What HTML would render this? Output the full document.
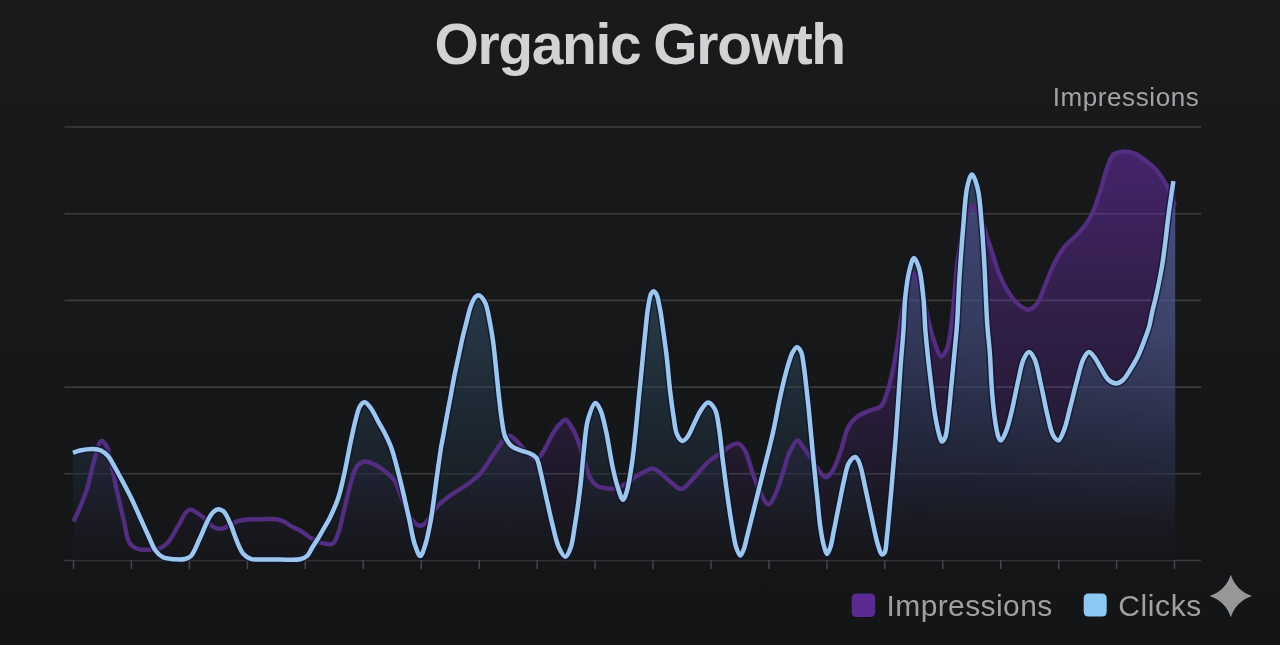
<!DOCTYPE html>
<html><head><meta charset="utf-8"><title>Organic Growth</title>
<style>
html,body{margin:0;padding:0;background:#161618;}
body{width:1280px;height:645px;overflow:hidden;}
svg{display:block;}
text{font-family:"Liberation Sans",Arial,sans-serif;}
</style></head><body>
<svg width="1280" height="645" viewBox="0 0 1280 645">
<defs>
<linearGradient id="bg" x1="0" y1="0" x2="0" y2="1">
<stop offset="0" stop-color="#1a1a1c"/><stop offset="1" stop-color="#141517"/>
</linearGradient>
<linearGradient id="pf" gradientUnits="userSpaceOnUse" x1="0" y1="150" x2="0" y2="560">
<stop offset="0" stop-color="#7832c8" stop-opacity="0.46"/>
<stop offset="0.366" stop-color="#7832c8" stop-opacity="0.28"/>
<stop offset="0.512" stop-color="#7832c8" stop-opacity="0.23"/>
<stop offset="0.683" stop-color="#7832c8" stop-opacity="0.16"/>
<stop offset="0.854" stop-color="#7832c8" stop-opacity="0.065"/>
<stop offset="1" stop-color="#7832c8" stop-opacity="0.01"/>
</linearGradient>
<linearGradient id="bf" gradientUnits="userSpaceOnUse" x1="0" y1="170" x2="0" y2="560">
<stop offset="0" stop-color="rgb(62,100,130)" stop-opacity="0.5"/>
<stop offset="0.41" stop-color="rgb(50,82,107)" stop-opacity="0.5"/>
<stop offset="0.59" stop-color="rgb(38,62,81)" stop-opacity="0.5"/>
<stop offset="0.77" stop-color="rgb(30,44,58)" stop-opacity="0.5"/>
<stop offset="0.9" stop-color="rgb(25,30,38)" stop-opacity="0.5"/>
<stop offset="1" stop-color="rgb(22,22,25)" stop-opacity="0.5"/>
</linearGradient>
<linearGradient id="lavh" gradientUnits="userSpaceOnUse" x1="860" y1="0" x2="1176" y2="0">
<stop offset="0" stop-color="#8c91e0" stop-opacity="0"/>
<stop offset="0.5" stop-color="#8c91e0" stop-opacity="0.07"/>
<stop offset="1" stop-color="#8c91e0" stop-opacity="0.16"/>
</linearGradient>
<linearGradient id="lavv" gradientUnits="userSpaceOnUse" x1="0" y1="170" x2="0" y2="540">
<stop offset="0" stop-color="#fff" stop-opacity="1"/>
<stop offset="0.45" stop-color="#fff" stop-opacity="0.85"/>
<stop offset="0.75" stop-color="#fff" stop-opacity="0.3"/>
<stop offset="1" stop-color="#fff" stop-opacity="0"/>
</linearGradient>
<mask id="lavmask" maskUnits="userSpaceOnUse" x="0" y="0" width="1280" height="645">
<rect x="0" y="0" width="1280" height="645" fill="url(#lavv)"/>
</mask>
<clipPath id="bclip"><path d="M73.0,452.8 C73.0,452.8 77.3,451.1 80.0,450.5 C83.6,449.7 89.2,448.9 93.0,449.0 C96.0,449.1 98.5,449.4 101.0,450.5 C103.6,451.7 105.9,453.6 108.0,456.0 C110.6,459.0 112.6,463.3 115.0,467.5 C117.9,472.5 121.2,478.8 124.0,484.0 C126.5,488.7 128.6,492.7 131.0,497.5 C133.6,502.9 136.2,508.9 139.0,515.0 C142.0,521.7 145.5,529.7 148.5,536.0 C151.0,541.3 152.7,546.8 155.5,550.5 C157.7,553.5 160.0,555.8 163.0,557.3 C166.3,558.9 171.2,559.0 175.0,559.3 C178.5,559.5 182.2,559.7 185.0,559.0 C187.3,558.4 189.1,557.9 191.0,556.0 C194.3,552.7 197.2,543.9 200.0,538.0 C202.7,532.3 205.0,525.8 207.4,521.2 C209.2,517.8 210.7,514.6 212.8,512.5 C214.4,510.9 216.4,509.3 218.2,509.2 C220.0,509.1 221.9,509.9 223.6,511.4 C226.1,513.6 228.2,518.9 230.2,523.3 C232.6,528.5 234.4,535.4 236.7,540.7 C238.7,545.4 240.5,550.6 243.2,553.7 C245.4,556.2 248.0,557.8 250.8,558.8 C253.6,559.8 256.3,559.4 260.0,559.5 C265.4,559.7 273.3,559.5 280.0,559.5 C286.7,559.5 295.1,560.4 300.0,559.3 C303.1,558.6 305.2,557.7 307.2,555.9 C309.3,554.0 310.3,550.7 312.0,548.0 C313.8,545.1 315.8,542.1 317.7,539.0 C319.7,535.8 321.6,532.4 323.5,529.0 C325.5,525.5 327.4,522.7 329.5,518.5 C332.3,512.8 335.9,505.0 338.3,497.8 C340.8,490.3 342.3,482.6 344.2,474.3 C346.3,465.0 348.1,454.4 350.1,444.8 C352.0,435.7 354.0,425.5 356.0,418.3 C357.4,413.2 358.4,408.2 360.4,405.5 C361.6,403.8 363.2,402.2 364.7,402.3 C366.6,402.4 368.8,405.5 370.7,408.0 C373.3,411.3 375.6,416.8 378.0,421.2 C380.5,425.6 383.2,430.0 385.4,434.5 C387.6,438.9 389.5,442.7 391.3,447.7 C393.5,453.7 395.3,461.2 397.2,468.3 C399.2,475.9 401.1,483.7 403.0,491.8 C405.0,500.4 407.0,509.5 409.0,518.3 C411.0,527.1 412.5,537.9 414.9,544.8 C416.5,549.4 418.6,556.0 420.3,556.0 C422.0,556.0 423.8,549.3 425.3,544.8 C427.4,538.5 428.9,530.4 430.6,521.3 C432.9,508.9 434.9,490.5 436.8,477.1 C438.4,465.8 440.1,453.1 441.3,446.0 C441.9,442.2 442.3,440.9 443.0,437.4 C444.0,431.9 445.5,423.3 446.8,416.3 C448.1,409.3 449.5,402.3 450.8,395.3 C452.1,388.3 453.3,381.0 454.7,374.2 C456.0,367.8 457.4,361.9 458.7,355.8 C460.0,349.7 461.2,343.3 462.6,337.4 C463.9,331.9 465.3,326.7 466.6,321.6 C467.9,316.7 469.0,311.3 470.5,307.1 C471.7,303.7 472.9,300.2 474.5,298.2 C475.6,296.8 476.9,295.2 478.3,295.3 C480.2,295.4 482.9,298.6 484.7,301.7 C487.5,306.7 488.8,317.1 490.2,324.0 C491.4,330.0 492.1,334.6 493.0,340.8 C494.0,348.3 494.9,357.3 495.8,365.9 C496.8,375.0 497.6,384.7 498.6,393.8 C499.6,402.7 500.6,412.3 501.8,420.0 C502.8,426.1 503.1,431.7 505.0,436.3 C506.7,440.3 509.1,444.1 512.0,446.5 C514.5,448.6 517.7,449.3 520.8,450.5 C524.1,451.8 528.4,452.5 531.2,454.0 C533.4,455.1 535.1,456.0 536.5,458.0 C538.5,460.9 539.1,466.1 540.4,471.2 C542.1,477.9 543.8,486.6 545.7,494.9 C547.8,504.1 550.0,514.7 552.3,523.9 C554.4,532.2 556.1,541.7 558.9,547.6 C560.8,551.6 563.4,556.9 565.4,556.8 C567.3,556.7 569.3,551.4 570.7,547.6 C572.7,542.1 573.4,534.5 574.7,526.5 C576.5,515.9 578.5,502.1 580.0,489.6 C581.6,476.7 582.5,462.4 583.9,450.1 C585.1,439.3 585.5,428.3 587.9,419.8 C589.8,413.2 593.0,403.2 595.5,403.0 C597.2,402.8 599.0,407.0 600.5,410.2 C602.7,415.0 604.1,422.4 605.8,430.0 C608.1,440.2 610.2,455.5 612.4,465.9 C614.1,473.9 615.7,480.9 617.7,487.0 C619.3,491.8 621.3,499.7 623.0,499.7 C624.4,499.7 625.7,494.8 626.9,491.0 C628.9,484.5 630.5,473.4 632.0,463.3 C633.8,451.3 635.2,435.7 636.4,423.7 C637.4,413.6 638.1,404.8 639.0,396.0 C639.8,388.0 640.5,381.5 641.3,373.0 C642.3,362.6 643.5,349.3 644.7,338.1 C645.8,327.7 646.7,316.0 648.0,307.9 C648.9,302.4 649.7,296.8 651.0,294.0 C651.7,292.6 652.4,291.3 653.3,291.2 C654.2,291.1 655.4,292.5 656.3,294.0 C657.9,296.8 658.7,302.6 659.8,307.9 C661.2,314.6 662.2,323.3 663.3,331.2 C664.5,339.5 665.6,347.6 666.7,356.7 C667.9,367.1 668.8,379.6 670.0,390.0 C671.1,399.2 672.2,408.1 673.5,416.0 C674.6,422.7 675.0,429.9 677.0,434.3 C678.4,437.3 680.4,440.7 682.3,440.9 C683.9,441.1 685.9,438.9 687.5,436.9 C689.9,433.9 691.9,428.1 694.1,423.7 C696.3,419.3 698.2,414.2 700.7,410.5 C702.9,407.3 705.6,402.6 708.0,402.5 C710.3,402.4 713.2,406.3 715.0,409.5 C717.4,414.0 717.8,421.1 719.0,428.0 C720.5,436.8 721.2,447.1 722.5,458.0 C724.1,470.9 726.3,488.0 728.1,500.5 C729.5,510.3 730.7,518.5 732.1,526.7 C733.4,533.9 734.3,541.7 736.1,546.9 C737.3,550.5 739.0,555.5 740.4,555.5 C741.7,555.5 743.1,550.8 744.2,548.0 C745.4,544.7 745.9,541.3 747.0,537.0 C748.6,530.7 750.8,521.7 752.7,514.0 C754.6,506.4 756.5,498.7 758.4,491.1 C760.3,483.5 762.2,475.9 764.1,468.4 C766.0,460.9 768.1,453.1 769.8,446.0 C771.3,439.7 772.6,434.5 774.0,428.0 C775.7,420.3 777.4,410.4 779.0,402.5 C780.4,395.7 781.8,389.3 783.2,383.6 C784.3,378.8 785.4,374.6 786.5,370.5 C787.5,366.9 788.4,363.7 789.5,360.5 C790.5,357.5 791.4,354.3 792.8,352.0 C794.0,350.1 795.5,347.2 796.9,347.2 C798.3,347.2 800.0,349.7 801.1,351.9 C802.7,355.1 802.9,360.6 803.7,365.6 C804.7,371.7 805.4,379.1 806.2,386.0 C807.0,392.9 807.8,400.5 808.5,407.0 C809.1,412.7 809.4,417.0 810.0,423.0 C810.7,430.8 811.7,441.1 812.5,450.0 C813.3,458.6 814.1,466.9 815.0,475.3 C815.8,483.7 816.7,492.0 817.6,500.4 C818.4,508.7 819.0,517.5 820.1,525.4 C821.1,532.5 822.3,540.3 823.8,545.5 C824.8,549.0 825.9,553.9 827.1,554.0 C828.1,554.0 829.3,550.3 830.3,547.5 C831.8,543.2 832.6,536.7 833.9,530.5 C835.5,523.0 837.2,513.7 838.9,505.4 C840.6,497.2 842.1,488.5 843.9,481.0 C845.5,474.5 846.4,467.2 848.9,463.0 C850.6,460.2 853.5,456.9 855.2,457.0 C856.4,457.1 857.4,458.9 858.3,460.5 C859.7,462.9 860.6,466.9 861.6,470.6 C862.8,475.2 863.8,480.9 864.9,486.0 C866.0,491.1 867.1,496.3 868.2,501.4 C869.3,506.5 870.4,511.7 871.5,516.8 C872.6,521.9 873.7,527.3 874.8,532.2 C875.9,536.8 876.8,541.4 878.1,545.4 C879.2,548.8 880.3,554.1 881.8,554.5 C882.7,554.8 883.9,553.7 884.7,552.5 C886.3,549.9 886.2,542.6 886.9,537.0 C887.7,530.2 888.4,522.2 889.1,514.6 C889.8,506.7 890.6,498.6 891.3,490.4 C892.0,481.8 892.8,472.8 893.5,464.0 C894.2,455.2 895.0,447.4 895.7,437.6 C896.6,425.3 897.7,409.0 898.6,396.0 C899.4,384.5 900.0,374.3 900.8,363.4 C901.6,352.6 902.7,341.9 903.4,330.9 C904.2,319.7 904.2,307.6 905.3,297.0 C906.3,287.7 907.5,277.8 909.3,270.7 C910.6,265.6 912.3,258.1 914.0,258.0 C915.6,257.9 917.6,263.7 919.0,268.0 C921.2,275.0 922.2,286.9 923.3,297.0 C924.5,308.1 924.4,319.1 925.5,332.0 C926.9,347.9 929.3,369.6 931.2,385.1 C932.7,397.3 933.8,408.3 935.5,417.7 C936.8,425.1 938.5,433.1 939.9,437.2 C940.6,439.2 941.1,441.5 942.0,441.6 C942.9,441.7 944.4,439.4 945.3,437.2 C947.2,432.6 947.6,422.0 948.6,413.4 C949.8,403.4 950.7,391.8 951.8,380.8 C952.9,369.4 954.2,356.1 955.1,346.0 C955.8,338.1 956.4,333.4 957.0,325.0 C957.9,312.6 958.4,294.6 959.4,278.6 C960.5,261.6 961.9,242.2 963.3,225.9 C964.5,211.8 965.1,195.6 967.3,186.4 C968.6,181.2 970.3,174.5 972.0,174.5 C973.8,174.5 976.3,182.9 977.8,189.0 C980.1,198.4 980.7,213.4 981.8,225.9 C982.9,238.8 983.6,250.9 984.4,265.4 C985.4,283.2 986.2,308.9 987.3,325.0 C988.1,336.0 989.1,342.6 989.8,352.6 C990.7,364.5 991.0,379.4 992.0,391.6 C992.9,402.4 994.0,413.6 995.3,422.0 C996.2,428.0 997.1,434.1 998.5,437.2 C999.2,438.8 1000.0,440.6 1000.9,440.5 C1002.4,440.4 1004.7,434.6 1006.3,430.7 C1008.5,425.4 1009.9,418.4 1011.7,411.2 C1013.9,402.2 1016.0,390.1 1018.2,380.8 C1020.0,372.9 1021.2,364.2 1023.7,359.1 C1025.2,355.9 1027.3,352.1 1029.1,352.1 C1030.9,352.1 1032.9,355.8 1034.5,359.1 C1037.3,364.8 1038.9,376.1 1041.0,385.1 C1043.3,394.8 1045.3,406.5 1047.5,415.5 C1049.3,422.8 1050.5,430.8 1053.0,435.1 C1054.5,437.7 1056.7,440.7 1058.4,440.5 C1060.4,440.2 1062.1,434.8 1063.8,430.7 C1066.3,424.6 1068.2,415.0 1070.3,406.9 C1072.5,398.4 1074.6,389.1 1076.9,380.8 C1079.0,373.2 1080.8,364.2 1083.4,359.1 C1085.0,355.9 1086.9,352.3 1088.8,352.1 C1090.5,351.9 1092.5,354.8 1094.2,356.9 C1096.5,359.7 1098.4,364.1 1100.7,367.8 C1103.1,371.7 1105.3,377.1 1108.3,379.7 C1110.7,381.8 1113.8,383.5 1116.3,383.5 C1118.6,383.5 1120.9,381.9 1123.0,380.0 C1125.9,377.5 1128.5,372.4 1131.0,368.5 C1133.5,364.6 1135.7,360.8 1137.8,356.5 C1140.1,351.8 1142.1,346.4 1144.0,341.3 C1145.9,336.2 1147.9,331.1 1149.3,326.0 C1150.7,321.0 1151.3,315.7 1152.4,310.9 C1153.4,306.4 1154.7,302.3 1155.7,297.8 C1156.8,292.9 1157.9,287.8 1158.9,282.6 C1160.0,277.0 1161.2,271.4 1162.2,265.2 C1163.3,258.3 1164.2,250.8 1165.2,243.0 C1166.3,234.4 1167.1,225.6 1168.4,216.0 C1169.8,205.1 1173.4,181.2 1173.4,181.2 L1175.2,181.2 L1175.2,560.5 L73.0,560.5 Z"/></clipPath>
</defs>
<rect width="1280" height="645" fill="url(#bg)"/>
<text x="639.6" y="63.7" text-anchor="middle" font-size="57" font-weight="bold" letter-spacing="-1.35" word-spacing="-1.5" fill="#d2d2d2">Organic Growth</text>
<text x="1199.4" y="105.8" text-anchor="end" font-size="26" letter-spacing="0.6" fill="#a3a3a3">Impressions</text>
<g stroke="#ffffff" stroke-opacity="0.16" stroke-width="1.6">
<line x1="64.5" y1="127.0" x2="1201" y2="127.0"/>
<line x1="64.5" y1="213.7" x2="1201" y2="213.7"/>
<line x1="64.5" y1="300.4" x2="1201" y2="300.4"/>
<line x1="64.5" y1="387.1" x2="1201" y2="387.1"/>
<line x1="64.5" y1="473.8" x2="1201" y2="473.8"/>
<line x1="64.5" y1="560.5" x2="1201" y2="560.5"/>
</g>
<path d="M73.5,521.5 C73.5,521.5 78.4,511.4 80.6,506.0 C82.9,500.4 85.1,495.0 87.1,488.6 C89.5,480.9 91.1,470.8 93.6,462.6 C95.9,455.0 98.3,441.8 101.2,441.0 C102.7,440.6 104.6,443.0 106.0,445.2 C108.3,448.8 109.4,456.1 111.0,462.6 C113.0,470.8 114.8,481.3 116.9,490.8 C119.1,500.7 121.8,511.7 124.0,521.0 C125.9,528.9 126.3,538.2 129.5,542.9 C131.7,546.1 135.0,547.9 138.0,549.0 C140.8,550.0 143.6,549.8 146.8,549.8 C150.7,549.8 156.2,549.7 159.8,548.3 C162.8,547.1 164.9,545.5 167.4,542.9 C170.8,539.3 174.1,532.8 177.2,527.7 C180.3,522.7 183.2,515.5 185.9,512.5 C187.4,510.9 188.6,509.6 190.2,509.5 C192.1,509.3 194.3,511.2 196.5,512.5 C199.2,514.2 202.5,516.6 205.2,519.0 C207.9,521.3 209.9,525.0 212.8,526.6 C215.4,528.1 218.7,529.0 221.5,528.8 C224.1,528.6 226.4,526.7 229.0,525.5 C231.8,524.2 234.7,522.2 237.8,521.2 C240.9,520.2 244.0,519.8 247.5,519.5 C251.7,519.1 256.8,519.3 261.6,519.2 C266.6,519.1 272.8,518.6 276.8,519.2 C279.5,519.6 281.0,520.2 283.3,521.2 C286.1,522.5 289.0,525.0 292.0,526.6 C294.9,528.2 298.0,529.2 301.0,531.0 C304.5,533.1 308.0,536.5 311.6,538.5 C314.8,540.3 317.9,541.9 321.3,542.8 C324.8,543.7 329.6,545.3 332.4,543.8 C335.4,542.2 336.6,537.4 338.3,533.0 C340.7,526.8 342.1,517.8 344.2,509.6 C346.5,500.4 349.0,488.2 351.6,480.2 C353.5,474.4 354.7,468.6 357.5,465.5 C359.5,463.2 362.0,461.7 364.8,461.5 C368.2,461.2 372.9,463.6 376.6,465.5 C380.3,467.4 383.8,470.2 386.9,472.8 C389.7,475.1 392.1,476.9 394.3,480.2 C397.3,484.6 399.3,491.9 401.7,497.8 C404.2,503.7 406.1,510.8 409.0,515.5 C411.2,519.1 414.0,522.7 416.4,524.3 C417.9,525.3 419.3,526.0 420.8,525.8 C422.4,525.6 424.0,524.4 425.5,523.0 C427.7,520.9 429.6,516.6 431.8,513.6 C434.0,510.6 436.2,507.6 438.6,505.1 C440.8,502.8 443.2,501.0 445.5,499.1 C447.7,497.3 450.0,495.6 452.3,494.0 C454.5,492.5 456.8,491.2 459.1,489.8 C461.4,488.4 463.7,487.0 465.9,485.5 C468.2,483.9 470.5,482.2 472.7,480.4 C475.0,478.5 477.5,476.6 479.5,474.4 C481.5,472.3 483.0,470.0 484.7,467.6 C486.5,465.1 488.1,462.5 489.8,459.9 C491.5,457.4 493.2,454.8 494.9,452.3 C496.6,449.7 498.3,446.9 500.0,444.6 C501.5,442.5 502.9,440.6 504.5,439.0 C505.9,437.6 507.1,435.7 508.8,435.6 C511.0,435.5 514.1,438.6 516.7,440.9 C519.8,443.7 522.5,448.3 525.9,451.4 C529.2,454.4 533.3,459.7 536.5,459.3 C539.9,458.8 543.1,451.6 545.7,447.4 C548.3,443.3 549.8,438.3 552.3,434.3 C554.7,430.5 557.6,426.2 560.2,423.7 C562.0,421.9 563.7,419.6 565.5,419.8 C567.7,420.1 570.0,424.5 572.0,427.7 C574.5,431.7 576.6,436.8 578.6,442.2 C581.0,448.5 583.1,456.9 585.2,463.3 C587.0,468.8 588.2,474.5 590.5,478.5 C592.3,481.7 594.5,484.4 597.1,486.0 C599.6,487.5 602.7,487.9 605.8,488.3 C609.1,488.7 613.1,489.1 616.4,488.3 C619.7,487.5 622.5,485.6 625.6,483.8 C629.1,481.8 632.7,478.7 636.1,476.5 C639.2,474.5 642.4,472.6 645.4,471.2 C647.9,470.0 650.3,468.3 652.7,468.5 C655.2,468.7 657.4,470.7 659.9,472.5 C663.2,474.8 666.8,478.9 670.4,481.7 C673.9,484.4 677.5,489.2 681.0,489.1 C684.6,489.0 688.2,483.6 691.5,480.4 C694.8,477.2 697.5,473.4 700.7,469.9 C704.1,466.3 707.6,462.2 711.3,459.3 C714.7,456.6 718.6,455.0 721.8,452.7 C724.8,450.6 727.1,447.6 730.0,446.1 C732.7,444.7 736.0,442.8 738.5,443.5 C741.1,444.2 743.2,447.6 745.2,451.0 C748.1,456.1 749.9,465.5 752.3,472.3 C754.6,478.6 756.5,484.9 759.3,490.4 C761.9,495.5 765.6,504.4 768.4,504.5 C770.5,504.6 772.5,500.0 774.4,496.5 C777.3,491.1 780.0,481.7 782.5,474.3 C785.0,466.9 786.6,458.1 789.6,452.1 C791.9,447.4 795.1,440.6 797.6,440.5 C799.5,440.4 801.2,444.7 802.8,446.7 C804.2,448.5 805.2,449.8 806.7,452.0 C808.9,455.2 812.2,460.3 814.8,464.2 C817.2,467.7 819.6,472.0 821.8,474.3 C823.2,475.7 824.3,477.4 825.8,477.3 C827.9,477.2 830.7,473.5 832.9,470.2 C836.1,465.4 838.4,457.1 841.0,450.1 C843.7,442.6 845.3,432.3 848.7,426.4 C851.2,422.1 854.1,419.2 857.4,416.6 C860.6,414.1 864.4,412.9 868.2,411.2 C872.3,409.3 878.2,408.8 881.3,405.8 C884.3,402.9 885.1,398.1 886.7,393.8 C888.4,389.1 889.7,384.1 891.0,378.6 C892.6,372.0 894.1,364.0 895.4,356.9 C896.6,350.2 897.7,343.7 898.6,337.4 C899.5,331.4 899.8,326.5 900.8,320.0 C902.1,311.8 903.7,300.2 906.0,292.0 C907.9,285.2 910.6,274.2 913.0,274.0 C914.9,273.9 917.2,280.9 919.0,285.0 C921.1,289.9 922.8,295.9 924.3,301.7 C926.0,307.9 926.9,314.8 928.5,321.3 C930.1,327.8 931.9,334.8 934.1,340.8 C936.1,346.3 938.6,355.9 941.1,356.2 C942.9,356.4 945.3,352.1 946.7,349.2 C948.5,345.5 949.1,340.3 950.0,335.0 C951.2,328.5 951.8,321.9 952.8,313.0 C954.3,299.5 955.4,277.7 957.5,262.0 C959.3,248.4 961.0,234.3 964.0,224.0 C966.2,216.6 969.3,205.8 971.8,205.4 C973.2,205.2 974.6,208.0 976.0,210.0 C977.9,212.7 979.9,216.7 981.6,220.7 C983.7,225.6 985.4,231.9 987.2,237.5 C989.0,243.0 990.8,248.3 992.6,254.0 C994.6,260.0 996.1,266.4 998.6,272.5 C1001.2,278.8 1004.5,285.7 1007.9,291.1 C1010.8,295.8 1013.6,300.3 1017.2,303.5 C1020.4,306.3 1024.6,309.8 1028.0,309.7 C1031.3,309.6 1034.7,306.6 1037.3,303.5 C1040.8,299.3 1042.4,291.4 1045.1,285.0 C1048.1,278.1 1051.1,269.8 1054.4,263.3 C1057.3,257.6 1060.0,252.5 1063.7,247.8 C1067.3,243.2 1072.2,239.6 1076.1,235.4 C1079.9,231.3 1083.8,227.6 1086.9,223.0 C1090.1,218.3 1092.4,213.0 1094.7,207.5 C1097.1,201.7 1098.9,195.3 1100.9,188.9 C1103.0,182.2 1104.7,174.3 1107.0,168.2 C1108.9,163.1 1110.2,157.3 1113.2,154.6 C1115.7,152.4 1119.1,151.9 1122.5,151.6 C1126.3,151.3 1130.9,152.0 1134.9,153.6 C1139.2,155.3 1143.6,159.1 1147.3,162.0 C1150.7,164.7 1153.7,167.0 1156.6,170.3 C1160.0,174.2 1163.2,179.6 1165.9,184.2 C1168.3,188.4 1170.6,192.7 1172.1,196.6 C1173.3,199.9 1174.6,205.9 1174.6,205.9 L1175.2,205.9 L1175.2,560.5 L73.5,560.5 Z" fill="url(#pf)"/>
<path d="M73.0,452.8 C73.0,452.8 77.3,451.1 80.0,450.5 C83.6,449.7 89.2,448.9 93.0,449.0 C96.0,449.1 98.5,449.4 101.0,450.5 C103.6,451.7 105.9,453.6 108.0,456.0 C110.6,459.0 112.6,463.3 115.0,467.5 C117.9,472.5 121.2,478.8 124.0,484.0 C126.5,488.7 128.6,492.7 131.0,497.5 C133.6,502.9 136.2,508.9 139.0,515.0 C142.0,521.7 145.5,529.7 148.5,536.0 C151.0,541.3 152.7,546.8 155.5,550.5 C157.7,553.5 160.0,555.8 163.0,557.3 C166.3,558.9 171.2,559.0 175.0,559.3 C178.5,559.5 182.2,559.7 185.0,559.0 C187.3,558.4 189.1,557.9 191.0,556.0 C194.3,552.7 197.2,543.9 200.0,538.0 C202.7,532.3 205.0,525.8 207.4,521.2 C209.2,517.8 210.7,514.6 212.8,512.5 C214.4,510.9 216.4,509.3 218.2,509.2 C220.0,509.1 221.9,509.9 223.6,511.4 C226.1,513.6 228.2,518.9 230.2,523.3 C232.6,528.5 234.4,535.4 236.7,540.7 C238.7,545.4 240.5,550.6 243.2,553.7 C245.4,556.2 248.0,557.8 250.8,558.8 C253.6,559.8 256.3,559.4 260.0,559.5 C265.4,559.7 273.3,559.5 280.0,559.5 C286.7,559.5 295.1,560.4 300.0,559.3 C303.1,558.6 305.2,557.7 307.2,555.9 C309.3,554.0 310.3,550.7 312.0,548.0 C313.8,545.1 315.8,542.1 317.7,539.0 C319.7,535.8 321.6,532.4 323.5,529.0 C325.5,525.5 327.4,522.7 329.5,518.5 C332.3,512.8 335.9,505.0 338.3,497.8 C340.8,490.3 342.3,482.6 344.2,474.3 C346.3,465.0 348.1,454.4 350.1,444.8 C352.0,435.7 354.0,425.5 356.0,418.3 C357.4,413.2 358.4,408.2 360.4,405.5 C361.6,403.8 363.2,402.2 364.7,402.3 C366.6,402.4 368.8,405.5 370.7,408.0 C373.3,411.3 375.6,416.8 378.0,421.2 C380.5,425.6 383.2,430.0 385.4,434.5 C387.6,438.9 389.5,442.7 391.3,447.7 C393.5,453.7 395.3,461.2 397.2,468.3 C399.2,475.9 401.1,483.7 403.0,491.8 C405.0,500.4 407.0,509.5 409.0,518.3 C411.0,527.1 412.5,537.9 414.9,544.8 C416.5,549.4 418.6,556.0 420.3,556.0 C422.0,556.0 423.8,549.3 425.3,544.8 C427.4,538.5 428.9,530.4 430.6,521.3 C432.9,508.9 434.9,490.5 436.8,477.1 C438.4,465.8 440.1,453.1 441.3,446.0 C441.9,442.2 442.3,440.9 443.0,437.4 C444.0,431.9 445.5,423.3 446.8,416.3 C448.1,409.3 449.5,402.3 450.8,395.3 C452.1,388.3 453.3,381.0 454.7,374.2 C456.0,367.8 457.4,361.9 458.7,355.8 C460.0,349.7 461.2,343.3 462.6,337.4 C463.9,331.9 465.3,326.7 466.6,321.6 C467.9,316.7 469.0,311.3 470.5,307.1 C471.7,303.7 472.9,300.2 474.5,298.2 C475.6,296.8 476.9,295.2 478.3,295.3 C480.2,295.4 482.9,298.6 484.7,301.7 C487.5,306.7 488.8,317.1 490.2,324.0 C491.4,330.0 492.1,334.6 493.0,340.8 C494.0,348.3 494.9,357.3 495.8,365.9 C496.8,375.0 497.6,384.7 498.6,393.8 C499.6,402.7 500.6,412.3 501.8,420.0 C502.8,426.1 503.1,431.7 505.0,436.3 C506.7,440.3 509.1,444.1 512.0,446.5 C514.5,448.6 517.7,449.3 520.8,450.5 C524.1,451.8 528.4,452.5 531.2,454.0 C533.4,455.1 535.1,456.0 536.5,458.0 C538.5,460.9 539.1,466.1 540.4,471.2 C542.1,477.9 543.8,486.6 545.7,494.9 C547.8,504.1 550.0,514.7 552.3,523.9 C554.4,532.2 556.1,541.7 558.9,547.6 C560.8,551.6 563.4,556.9 565.4,556.8 C567.3,556.7 569.3,551.4 570.7,547.6 C572.7,542.1 573.4,534.5 574.7,526.5 C576.5,515.9 578.5,502.1 580.0,489.6 C581.6,476.7 582.5,462.4 583.9,450.1 C585.1,439.3 585.5,428.3 587.9,419.8 C589.8,413.2 593.0,403.2 595.5,403.0 C597.2,402.8 599.0,407.0 600.5,410.2 C602.7,415.0 604.1,422.4 605.8,430.0 C608.1,440.2 610.2,455.5 612.4,465.9 C614.1,473.9 615.7,480.9 617.7,487.0 C619.3,491.8 621.3,499.7 623.0,499.7 C624.4,499.7 625.7,494.8 626.9,491.0 C628.9,484.5 630.5,473.4 632.0,463.3 C633.8,451.3 635.2,435.7 636.4,423.7 C637.4,413.6 638.1,404.8 639.0,396.0 C639.8,388.0 640.5,381.5 641.3,373.0 C642.3,362.6 643.5,349.3 644.7,338.1 C645.8,327.7 646.7,316.0 648.0,307.9 C648.9,302.4 649.7,296.8 651.0,294.0 C651.7,292.6 652.4,291.3 653.3,291.2 C654.2,291.1 655.4,292.5 656.3,294.0 C657.9,296.8 658.7,302.6 659.8,307.9 C661.2,314.6 662.2,323.3 663.3,331.2 C664.5,339.5 665.6,347.6 666.7,356.7 C667.9,367.1 668.8,379.6 670.0,390.0 C671.1,399.2 672.2,408.1 673.5,416.0 C674.6,422.7 675.0,429.9 677.0,434.3 C678.4,437.3 680.4,440.7 682.3,440.9 C683.9,441.1 685.9,438.9 687.5,436.9 C689.9,433.9 691.9,428.1 694.1,423.7 C696.3,419.3 698.2,414.2 700.7,410.5 C702.9,407.3 705.6,402.6 708.0,402.5 C710.3,402.4 713.2,406.3 715.0,409.5 C717.4,414.0 717.8,421.1 719.0,428.0 C720.5,436.8 721.2,447.1 722.5,458.0 C724.1,470.9 726.3,488.0 728.1,500.5 C729.5,510.3 730.7,518.5 732.1,526.7 C733.4,533.9 734.3,541.7 736.1,546.9 C737.3,550.5 739.0,555.5 740.4,555.5 C741.7,555.5 743.1,550.8 744.2,548.0 C745.4,544.7 745.9,541.3 747.0,537.0 C748.6,530.7 750.8,521.7 752.7,514.0 C754.6,506.4 756.5,498.7 758.4,491.1 C760.3,483.5 762.2,475.9 764.1,468.4 C766.0,460.9 768.1,453.1 769.8,446.0 C771.3,439.7 772.6,434.5 774.0,428.0 C775.7,420.3 777.4,410.4 779.0,402.5 C780.4,395.7 781.8,389.3 783.2,383.6 C784.3,378.8 785.4,374.6 786.5,370.5 C787.5,366.9 788.4,363.7 789.5,360.5 C790.5,357.5 791.4,354.3 792.8,352.0 C794.0,350.1 795.5,347.2 796.9,347.2 C798.3,347.2 800.0,349.7 801.1,351.9 C802.7,355.1 802.9,360.6 803.7,365.6 C804.7,371.7 805.4,379.1 806.2,386.0 C807.0,392.9 807.8,400.5 808.5,407.0 C809.1,412.7 809.4,417.0 810.0,423.0 C810.7,430.8 811.7,441.1 812.5,450.0 C813.3,458.6 814.1,466.9 815.0,475.3 C815.8,483.7 816.7,492.0 817.6,500.4 C818.4,508.7 819.0,517.5 820.1,525.4 C821.1,532.5 822.3,540.3 823.8,545.5 C824.8,549.0 825.9,553.9 827.1,554.0 C828.1,554.0 829.3,550.3 830.3,547.5 C831.8,543.2 832.6,536.7 833.9,530.5 C835.5,523.0 837.2,513.7 838.9,505.4 C840.6,497.2 842.1,488.5 843.9,481.0 C845.5,474.5 846.4,467.2 848.9,463.0 C850.6,460.2 853.5,456.9 855.2,457.0 C856.4,457.1 857.4,458.9 858.3,460.5 C859.7,462.9 860.6,466.9 861.6,470.6 C862.8,475.2 863.8,480.9 864.9,486.0 C866.0,491.1 867.1,496.3 868.2,501.4 C869.3,506.5 870.4,511.7 871.5,516.8 C872.6,521.9 873.7,527.3 874.8,532.2 C875.9,536.8 876.8,541.4 878.1,545.4 C879.2,548.8 880.3,554.1 881.8,554.5 C882.7,554.8 883.9,553.7 884.7,552.5 C886.3,549.9 886.2,542.6 886.9,537.0 C887.7,530.2 888.4,522.2 889.1,514.6 C889.8,506.7 890.6,498.6 891.3,490.4 C892.0,481.8 892.8,472.8 893.5,464.0 C894.2,455.2 895.0,447.4 895.7,437.6 C896.6,425.3 897.7,409.0 898.6,396.0 C899.4,384.5 900.0,374.3 900.8,363.4 C901.6,352.6 902.7,341.9 903.4,330.9 C904.2,319.7 904.2,307.6 905.3,297.0 C906.3,287.7 907.5,277.8 909.3,270.7 C910.6,265.6 912.3,258.1 914.0,258.0 C915.6,257.9 917.6,263.7 919.0,268.0 C921.2,275.0 922.2,286.9 923.3,297.0 C924.5,308.1 924.4,319.1 925.5,332.0 C926.9,347.9 929.3,369.6 931.2,385.1 C932.7,397.3 933.8,408.3 935.5,417.7 C936.8,425.1 938.5,433.1 939.9,437.2 C940.6,439.2 941.1,441.5 942.0,441.6 C942.9,441.7 944.4,439.4 945.3,437.2 C947.2,432.6 947.6,422.0 948.6,413.4 C949.8,403.4 950.7,391.8 951.8,380.8 C952.9,369.4 954.2,356.1 955.1,346.0 C955.8,338.1 956.4,333.4 957.0,325.0 C957.9,312.6 958.4,294.6 959.4,278.6 C960.5,261.6 961.9,242.2 963.3,225.9 C964.5,211.8 965.1,195.6 967.3,186.4 C968.6,181.2 970.3,174.5 972.0,174.5 C973.8,174.5 976.3,182.9 977.8,189.0 C980.1,198.4 980.7,213.4 981.8,225.9 C982.9,238.8 983.6,250.9 984.4,265.4 C985.4,283.2 986.2,308.9 987.3,325.0 C988.1,336.0 989.1,342.6 989.8,352.6 C990.7,364.5 991.0,379.4 992.0,391.6 C992.9,402.4 994.0,413.6 995.3,422.0 C996.2,428.0 997.1,434.1 998.5,437.2 C999.2,438.8 1000.0,440.6 1000.9,440.5 C1002.4,440.4 1004.7,434.6 1006.3,430.7 C1008.5,425.4 1009.9,418.4 1011.7,411.2 C1013.9,402.2 1016.0,390.1 1018.2,380.8 C1020.0,372.9 1021.2,364.2 1023.7,359.1 C1025.2,355.9 1027.3,352.1 1029.1,352.1 C1030.9,352.1 1032.9,355.8 1034.5,359.1 C1037.3,364.8 1038.9,376.1 1041.0,385.1 C1043.3,394.8 1045.3,406.5 1047.5,415.5 C1049.3,422.8 1050.5,430.8 1053.0,435.1 C1054.5,437.7 1056.7,440.7 1058.4,440.5 C1060.4,440.2 1062.1,434.8 1063.8,430.7 C1066.3,424.6 1068.2,415.0 1070.3,406.9 C1072.5,398.4 1074.6,389.1 1076.9,380.8 C1079.0,373.2 1080.8,364.2 1083.4,359.1 C1085.0,355.9 1086.9,352.3 1088.8,352.1 C1090.5,351.9 1092.5,354.8 1094.2,356.9 C1096.5,359.7 1098.4,364.1 1100.7,367.8 C1103.1,371.7 1105.3,377.1 1108.3,379.7 C1110.7,381.8 1113.8,383.5 1116.3,383.5 C1118.6,383.5 1120.9,381.9 1123.0,380.0 C1125.9,377.5 1128.5,372.4 1131.0,368.5 C1133.5,364.6 1135.7,360.8 1137.8,356.5 C1140.1,351.8 1142.1,346.4 1144.0,341.3 C1145.9,336.2 1147.9,331.1 1149.3,326.0 C1150.7,321.0 1151.3,315.7 1152.4,310.9 C1153.4,306.4 1154.7,302.3 1155.7,297.8 C1156.8,292.9 1157.9,287.8 1158.9,282.6 C1160.0,277.0 1161.2,271.4 1162.2,265.2 C1163.3,258.3 1164.2,250.8 1165.2,243.0 C1166.3,234.4 1167.1,225.6 1168.4,216.0 C1169.8,205.1 1173.4,181.2 1173.4,181.2 L1175.2,181.2 L1175.2,560.5 L73.0,560.5 Z" fill="url(#bf)"/>
<g clip-path="url(#bclip)"><rect x="850" y="150" width="330" height="415" fill="url(#lavh)" mask="url(#lavmask)"/></g>

<g stroke="#46464a" stroke-width="1.5">
<line x1="73.5" y1="560" x2="73.5" y2="569"/>
<line x1="131.4" y1="560" x2="131.4" y2="569"/>
<line x1="189.4" y1="560" x2="189.4" y2="569"/>
<line x1="247.4" y1="560" x2="247.4" y2="569"/>
<line x1="305.3" y1="560" x2="305.3" y2="569"/>
<line x1="363.2" y1="560" x2="363.2" y2="569"/>
<line x1="421.2" y1="560" x2="421.2" y2="569"/>
<line x1="479.2" y1="560" x2="479.2" y2="569"/>
<line x1="537.1" y1="560" x2="537.1" y2="569"/>
<line x1="595.1" y1="560" x2="595.1" y2="569"/>
<line x1="653.0" y1="560" x2="653.0" y2="569"/>
<line x1="711.0" y1="560" x2="711.0" y2="569"/>
<line x1="768.9" y1="560" x2="768.9" y2="569"/>
<line x1="826.9" y1="560" x2="826.9" y2="569"/>
<line x1="884.8" y1="560" x2="884.8" y2="569"/>
<line x1="942.8" y1="560" x2="942.8" y2="569"/>
<line x1="1000.7" y1="560" x2="1000.7" y2="569"/>
<line x1="1058.7" y1="560" x2="1058.7" y2="569"/>
<line x1="1116.6" y1="560" x2="1116.6" y2="569"/>
<line x1="1174.5" y1="560" x2="1174.5" y2="569"/>
</g>
<path d="M73.5,521.5 C73.5,521.5 78.4,511.4 80.6,506.0 C82.9,500.4 85.1,495.0 87.1,488.6 C89.5,480.9 91.1,470.8 93.6,462.6 C95.9,455.0 98.3,441.8 101.2,441.0 C102.7,440.6 104.6,443.0 106.0,445.2 C108.3,448.8 109.4,456.1 111.0,462.6 C113.0,470.8 114.8,481.3 116.9,490.8 C119.1,500.7 121.8,511.7 124.0,521.0 C125.9,528.9 126.3,538.2 129.5,542.9 C131.7,546.1 135.0,547.9 138.0,549.0 C140.8,550.0 143.6,549.8 146.8,549.8 C150.7,549.8 156.2,549.7 159.8,548.3 C162.8,547.1 164.9,545.5 167.4,542.9 C170.8,539.3 174.1,532.8 177.2,527.7 C180.3,522.7 183.2,515.5 185.9,512.5 C187.4,510.9 188.6,509.6 190.2,509.5 C192.1,509.3 194.3,511.2 196.5,512.5 C199.2,514.2 202.5,516.6 205.2,519.0 C207.9,521.3 209.9,525.0 212.8,526.6 C215.4,528.1 218.7,529.0 221.5,528.8 C224.1,528.6 226.4,526.7 229.0,525.5 C231.8,524.2 234.7,522.2 237.8,521.2 C240.9,520.2 244.0,519.8 247.5,519.5 C251.7,519.1 256.8,519.3 261.6,519.2 C266.6,519.1 272.8,518.6 276.8,519.2 C279.5,519.6 281.0,520.2 283.3,521.2 C286.1,522.5 289.0,525.0 292.0,526.6 C294.9,528.2 298.0,529.2 301.0,531.0 C304.5,533.1 308.0,536.5 311.6,538.5 C314.8,540.3 317.9,541.9 321.3,542.8 C324.8,543.7 329.6,545.3 332.4,543.8 C335.4,542.2 336.6,537.4 338.3,533.0 C340.7,526.8 342.1,517.8 344.2,509.6 C346.5,500.4 349.0,488.2 351.6,480.2 C353.5,474.4 354.7,468.6 357.5,465.5 C359.5,463.2 362.0,461.7 364.8,461.5 C368.2,461.2 372.9,463.6 376.6,465.5 C380.3,467.4 383.8,470.2 386.9,472.8 C389.7,475.1 392.1,476.9 394.3,480.2 C397.3,484.6 399.3,491.9 401.7,497.8 C404.2,503.7 406.1,510.8 409.0,515.5 C411.2,519.1 414.0,522.7 416.4,524.3 C417.9,525.3 419.3,526.0 420.8,525.8 C422.4,525.6 424.0,524.4 425.5,523.0 C427.7,520.9 429.6,516.6 431.8,513.6 C434.0,510.6 436.2,507.6 438.6,505.1 C440.8,502.8 443.2,501.0 445.5,499.1 C447.7,497.3 450.0,495.6 452.3,494.0 C454.5,492.5 456.8,491.2 459.1,489.8 C461.4,488.4 463.7,487.0 465.9,485.5 C468.2,483.9 470.5,482.2 472.7,480.4 C475.0,478.5 477.5,476.6 479.5,474.4 C481.5,472.3 483.0,470.0 484.7,467.6 C486.5,465.1 488.1,462.5 489.8,459.9 C491.5,457.4 493.2,454.8 494.9,452.3 C496.6,449.7 498.3,446.9 500.0,444.6 C501.5,442.5 502.9,440.6 504.5,439.0 C505.9,437.6 507.1,435.7 508.8,435.6 C511.0,435.5 514.1,438.6 516.7,440.9 C519.8,443.7 522.5,448.3 525.9,451.4 C529.2,454.4 533.3,459.7 536.5,459.3 C539.9,458.8 543.1,451.6 545.7,447.4 C548.3,443.3 549.8,438.3 552.3,434.3 C554.7,430.5 557.6,426.2 560.2,423.7 C562.0,421.9 563.7,419.6 565.5,419.8 C567.7,420.1 570.0,424.5 572.0,427.7 C574.5,431.7 576.6,436.8 578.6,442.2 C581.0,448.5 583.1,456.9 585.2,463.3 C587.0,468.8 588.2,474.5 590.5,478.5 C592.3,481.7 594.5,484.4 597.1,486.0 C599.6,487.5 602.7,487.9 605.8,488.3 C609.1,488.7 613.1,489.1 616.4,488.3 C619.7,487.5 622.5,485.6 625.6,483.8 C629.1,481.8 632.7,478.7 636.1,476.5 C639.2,474.5 642.4,472.6 645.4,471.2 C647.9,470.0 650.3,468.3 652.7,468.5 C655.2,468.7 657.4,470.7 659.9,472.5 C663.2,474.8 666.8,478.9 670.4,481.7 C673.9,484.4 677.5,489.2 681.0,489.1 C684.6,489.0 688.2,483.6 691.5,480.4 C694.8,477.2 697.5,473.4 700.7,469.9 C704.1,466.3 707.6,462.2 711.3,459.3 C714.7,456.6 718.6,455.0 721.8,452.7 C724.8,450.6 727.1,447.6 730.0,446.1 C732.7,444.7 736.0,442.8 738.5,443.5 C741.1,444.2 743.2,447.6 745.2,451.0 C748.1,456.1 749.9,465.5 752.3,472.3 C754.6,478.6 756.5,484.9 759.3,490.4 C761.9,495.5 765.6,504.4 768.4,504.5 C770.5,504.6 772.5,500.0 774.4,496.5 C777.3,491.1 780.0,481.7 782.5,474.3 C785.0,466.9 786.6,458.1 789.6,452.1 C791.9,447.4 795.1,440.6 797.6,440.5 C799.5,440.4 801.2,444.7 802.8,446.7 C804.2,448.5 805.2,449.8 806.7,452.0 C808.9,455.2 812.2,460.3 814.8,464.2 C817.2,467.7 819.6,472.0 821.8,474.3 C823.2,475.7 824.3,477.4 825.8,477.3 C827.9,477.2 830.7,473.5 832.9,470.2 C836.1,465.4 838.4,457.1 841.0,450.1 C843.7,442.6 845.3,432.3 848.7,426.4 C851.2,422.1 854.1,419.2 857.4,416.6 C860.6,414.1 864.4,412.9 868.2,411.2 C872.3,409.3 878.2,408.8 881.3,405.8 C884.3,402.9 885.1,398.1 886.7,393.8 C888.4,389.1 889.7,384.1 891.0,378.6 C892.6,372.0 894.1,364.0 895.4,356.9 C896.6,350.2 897.7,343.7 898.6,337.4 C899.5,331.4 899.8,326.5 900.8,320.0 C902.1,311.8 903.7,300.2 906.0,292.0 C907.9,285.2 910.6,274.2 913.0,274.0 C914.9,273.9 917.2,280.9 919.0,285.0 C921.1,289.9 922.8,295.9 924.3,301.7 C926.0,307.9 926.9,314.8 928.5,321.3 C930.1,327.8 931.9,334.8 934.1,340.8 C936.1,346.3 938.6,355.9 941.1,356.2 C942.9,356.4 945.3,352.1 946.7,349.2 C948.5,345.5 949.1,340.3 950.0,335.0 C951.2,328.5 951.8,321.9 952.8,313.0 C954.3,299.5 955.4,277.7 957.5,262.0 C959.3,248.4 961.0,234.3 964.0,224.0 C966.2,216.6 969.3,205.8 971.8,205.4 C973.2,205.2 974.6,208.0 976.0,210.0 C977.9,212.7 979.9,216.7 981.6,220.7 C983.7,225.6 985.4,231.9 987.2,237.5 C989.0,243.0 990.8,248.3 992.6,254.0 C994.6,260.0 996.1,266.4 998.6,272.5 C1001.2,278.8 1004.5,285.7 1007.9,291.1 C1010.8,295.8 1013.6,300.3 1017.2,303.5 C1020.4,306.3 1024.6,309.8 1028.0,309.7 C1031.3,309.6 1034.7,306.6 1037.3,303.5 C1040.8,299.3 1042.4,291.4 1045.1,285.0 C1048.1,278.1 1051.1,269.8 1054.4,263.3 C1057.3,257.6 1060.0,252.5 1063.7,247.8 C1067.3,243.2 1072.2,239.6 1076.1,235.4 C1079.9,231.3 1083.8,227.6 1086.9,223.0 C1090.1,218.3 1092.4,213.0 1094.7,207.5 C1097.1,201.7 1098.9,195.3 1100.9,188.9 C1103.0,182.2 1104.7,174.3 1107.0,168.2 C1108.9,163.1 1110.2,157.3 1113.2,154.6 C1115.7,152.4 1119.1,151.9 1122.5,151.6 C1126.3,151.3 1130.9,152.0 1134.9,153.6 C1139.2,155.3 1143.6,159.1 1147.3,162.0 C1150.7,164.7 1153.7,167.0 1156.6,170.3 C1160.0,174.2 1163.2,179.6 1165.9,184.2 C1168.3,188.4 1170.6,192.7 1172.1,196.6 C1173.3,199.9 1174.6,205.9 1174.6,205.9" fill="none" stroke="#522d80" stroke-width="4.4" stroke-linejoin="round" stroke-linecap="butt"/>
<path d="M73.0,452.8 C73.0,452.8 77.3,451.1 80.0,450.5 C83.6,449.7 89.2,448.9 93.0,449.0 C96.0,449.1 98.5,449.4 101.0,450.5 C103.6,451.7 105.9,453.6 108.0,456.0 C110.6,459.0 112.6,463.3 115.0,467.5 C117.9,472.5 121.2,478.8 124.0,484.0 C126.5,488.7 128.6,492.7 131.0,497.5 C133.6,502.9 136.2,508.9 139.0,515.0 C142.0,521.7 145.5,529.7 148.5,536.0 C151.0,541.3 152.7,546.8 155.5,550.5 C157.7,553.5 160.0,555.8 163.0,557.3 C166.3,558.9 171.2,559.0 175.0,559.3 C178.5,559.5 182.2,559.7 185.0,559.0 C187.3,558.4 189.1,557.9 191.0,556.0 C194.3,552.7 197.2,543.9 200.0,538.0 C202.7,532.3 205.0,525.8 207.4,521.2 C209.2,517.8 210.7,514.6 212.8,512.5 C214.4,510.9 216.4,509.3 218.2,509.2 C220.0,509.1 221.9,509.9 223.6,511.4 C226.1,513.6 228.2,518.9 230.2,523.3 C232.6,528.5 234.4,535.4 236.7,540.7 C238.7,545.4 240.5,550.6 243.2,553.7 C245.4,556.2 248.0,557.8 250.8,558.8 C253.6,559.8 256.3,559.4 260.0,559.5 C265.4,559.7 273.3,559.5 280.0,559.5 C286.7,559.5 295.1,560.4 300.0,559.3 C303.1,558.6 305.2,557.7 307.2,555.9 C309.3,554.0 310.3,550.7 312.0,548.0 C313.8,545.1 315.8,542.1 317.7,539.0 C319.7,535.8 321.6,532.4 323.5,529.0 C325.5,525.5 327.4,522.7 329.5,518.5 C332.3,512.8 335.9,505.0 338.3,497.8 C340.8,490.3 342.3,482.6 344.2,474.3 C346.3,465.0 348.1,454.4 350.1,444.8 C352.0,435.7 354.0,425.5 356.0,418.3 C357.4,413.2 358.4,408.2 360.4,405.5 C361.6,403.8 363.2,402.2 364.7,402.3 C366.6,402.4 368.8,405.5 370.7,408.0 C373.3,411.3 375.6,416.8 378.0,421.2 C380.5,425.6 383.2,430.0 385.4,434.5 C387.6,438.9 389.5,442.7 391.3,447.7 C393.5,453.7 395.3,461.2 397.2,468.3 C399.2,475.9 401.1,483.7 403.0,491.8 C405.0,500.4 407.0,509.5 409.0,518.3 C411.0,527.1 412.5,537.9 414.9,544.8 C416.5,549.4 418.6,556.0 420.3,556.0 C422.0,556.0 423.8,549.3 425.3,544.8 C427.4,538.5 428.9,530.4 430.6,521.3 C432.9,508.9 434.9,490.5 436.8,477.1 C438.4,465.8 440.1,453.1 441.3,446.0 C441.9,442.2 442.3,440.9 443.0,437.4 C444.0,431.9 445.5,423.3 446.8,416.3 C448.1,409.3 449.5,402.3 450.8,395.3 C452.1,388.3 453.3,381.0 454.7,374.2 C456.0,367.8 457.4,361.9 458.7,355.8 C460.0,349.7 461.2,343.3 462.6,337.4 C463.9,331.9 465.3,326.7 466.6,321.6 C467.9,316.7 469.0,311.3 470.5,307.1 C471.7,303.7 472.9,300.2 474.5,298.2 C475.6,296.8 476.9,295.2 478.3,295.3 C480.2,295.4 482.9,298.6 484.7,301.7 C487.5,306.7 488.8,317.1 490.2,324.0 C491.4,330.0 492.1,334.6 493.0,340.8 C494.0,348.3 494.9,357.3 495.8,365.9 C496.8,375.0 497.6,384.7 498.6,393.8 C499.6,402.7 500.6,412.3 501.8,420.0 C502.8,426.1 503.1,431.7 505.0,436.3 C506.7,440.3 509.1,444.1 512.0,446.5 C514.5,448.6 517.7,449.3 520.8,450.5 C524.1,451.8 528.4,452.5 531.2,454.0 C533.4,455.1 535.1,456.0 536.5,458.0 C538.5,460.9 539.1,466.1 540.4,471.2 C542.1,477.9 543.8,486.6 545.7,494.9 C547.8,504.1 550.0,514.7 552.3,523.9 C554.4,532.2 556.1,541.7 558.9,547.6 C560.8,551.6 563.4,556.9 565.4,556.8 C567.3,556.7 569.3,551.4 570.7,547.6 C572.7,542.1 573.4,534.5 574.7,526.5 C576.5,515.9 578.5,502.1 580.0,489.6 C581.6,476.7 582.5,462.4 583.9,450.1 C585.1,439.3 585.5,428.3 587.9,419.8 C589.8,413.2 593.0,403.2 595.5,403.0 C597.2,402.8 599.0,407.0 600.5,410.2 C602.7,415.0 604.1,422.4 605.8,430.0 C608.1,440.2 610.2,455.5 612.4,465.9 C614.1,473.9 615.7,480.9 617.7,487.0 C619.3,491.8 621.3,499.7 623.0,499.7 C624.4,499.7 625.7,494.8 626.9,491.0 C628.9,484.5 630.5,473.4 632.0,463.3 C633.8,451.3 635.2,435.7 636.4,423.7 C637.4,413.6 638.1,404.8 639.0,396.0 C639.8,388.0 640.5,381.5 641.3,373.0 C642.3,362.6 643.5,349.3 644.7,338.1 C645.8,327.7 646.7,316.0 648.0,307.9 C648.9,302.4 649.7,296.8 651.0,294.0 C651.7,292.6 652.4,291.3 653.3,291.2 C654.2,291.1 655.4,292.5 656.3,294.0 C657.9,296.8 658.7,302.6 659.8,307.9 C661.2,314.6 662.2,323.3 663.3,331.2 C664.5,339.5 665.6,347.6 666.7,356.7 C667.9,367.1 668.8,379.6 670.0,390.0 C671.1,399.2 672.2,408.1 673.5,416.0 C674.6,422.7 675.0,429.9 677.0,434.3 C678.4,437.3 680.4,440.7 682.3,440.9 C683.9,441.1 685.9,438.9 687.5,436.9 C689.9,433.9 691.9,428.1 694.1,423.7 C696.3,419.3 698.2,414.2 700.7,410.5 C702.9,407.3 705.6,402.6 708.0,402.5 C710.3,402.4 713.2,406.3 715.0,409.5 C717.4,414.0 717.8,421.1 719.0,428.0 C720.5,436.8 721.2,447.1 722.5,458.0 C724.1,470.9 726.3,488.0 728.1,500.5 C729.5,510.3 730.7,518.5 732.1,526.7 C733.4,533.9 734.3,541.7 736.1,546.9 C737.3,550.5 739.0,555.5 740.4,555.5 C741.7,555.5 743.1,550.8 744.2,548.0 C745.4,544.7 745.9,541.3 747.0,537.0 C748.6,530.7 750.8,521.7 752.7,514.0 C754.6,506.4 756.5,498.7 758.4,491.1 C760.3,483.5 762.2,475.9 764.1,468.4 C766.0,460.9 768.1,453.1 769.8,446.0 C771.3,439.7 772.6,434.5 774.0,428.0 C775.7,420.3 777.4,410.4 779.0,402.5 C780.4,395.7 781.8,389.3 783.2,383.6 C784.3,378.8 785.4,374.6 786.5,370.5 C787.5,366.9 788.4,363.7 789.5,360.5 C790.5,357.5 791.4,354.3 792.8,352.0 C794.0,350.1 795.5,347.2 796.9,347.2 C798.3,347.2 800.0,349.7 801.1,351.9 C802.7,355.1 802.9,360.6 803.7,365.6 C804.7,371.7 805.4,379.1 806.2,386.0 C807.0,392.9 807.8,400.5 808.5,407.0 C809.1,412.7 809.4,417.0 810.0,423.0 C810.7,430.8 811.7,441.1 812.5,450.0 C813.3,458.6 814.1,466.9 815.0,475.3 C815.8,483.7 816.7,492.0 817.6,500.4 C818.4,508.7 819.0,517.5 820.1,525.4 C821.1,532.5 822.3,540.3 823.8,545.5 C824.8,549.0 825.9,553.9 827.1,554.0 C828.1,554.0 829.3,550.3 830.3,547.5 C831.8,543.2 832.6,536.7 833.9,530.5 C835.5,523.0 837.2,513.7 838.9,505.4 C840.6,497.2 842.1,488.5 843.9,481.0 C845.5,474.5 846.4,467.2 848.9,463.0 C850.6,460.2 853.5,456.9 855.2,457.0 C856.4,457.1 857.4,458.9 858.3,460.5 C859.7,462.9 860.6,466.9 861.6,470.6 C862.8,475.2 863.8,480.9 864.9,486.0 C866.0,491.1 867.1,496.3 868.2,501.4 C869.3,506.5 870.4,511.7 871.5,516.8 C872.6,521.9 873.7,527.3 874.8,532.2 C875.9,536.8 876.8,541.4 878.1,545.4 C879.2,548.8 880.3,554.1 881.8,554.5 C882.7,554.8 883.9,553.7 884.7,552.5 C886.3,549.9 886.2,542.6 886.9,537.0 C887.7,530.2 888.4,522.2 889.1,514.6 C889.8,506.7 890.6,498.6 891.3,490.4 C892.0,481.8 892.8,472.8 893.5,464.0 C894.2,455.2 895.0,447.4 895.7,437.6 C896.6,425.3 897.7,409.0 898.6,396.0 C899.4,384.5 900.0,374.3 900.8,363.4 C901.6,352.6 902.7,341.9 903.4,330.9 C904.2,319.7 904.2,307.6 905.3,297.0 C906.3,287.7 907.5,277.8 909.3,270.7 C910.6,265.6 912.3,258.1 914.0,258.0 C915.6,257.9 917.6,263.7 919.0,268.0 C921.2,275.0 922.2,286.9 923.3,297.0 C924.5,308.1 924.4,319.1 925.5,332.0 C926.9,347.9 929.3,369.6 931.2,385.1 C932.7,397.3 933.8,408.3 935.5,417.7 C936.8,425.1 938.5,433.1 939.9,437.2 C940.6,439.2 941.1,441.5 942.0,441.6 C942.9,441.7 944.4,439.4 945.3,437.2 C947.2,432.6 947.6,422.0 948.6,413.4 C949.8,403.4 950.7,391.8 951.8,380.8 C952.9,369.4 954.2,356.1 955.1,346.0 C955.8,338.1 956.4,333.4 957.0,325.0 C957.9,312.6 958.4,294.6 959.4,278.6 C960.5,261.6 961.9,242.2 963.3,225.9 C964.5,211.8 965.1,195.6 967.3,186.4 C968.6,181.2 970.3,174.5 972.0,174.5 C973.8,174.5 976.3,182.9 977.8,189.0 C980.1,198.4 980.7,213.4 981.8,225.9 C982.9,238.8 983.6,250.9 984.4,265.4 C985.4,283.2 986.2,308.9 987.3,325.0 C988.1,336.0 989.1,342.6 989.8,352.6 C990.7,364.5 991.0,379.4 992.0,391.6 C992.9,402.4 994.0,413.6 995.3,422.0 C996.2,428.0 997.1,434.1 998.5,437.2 C999.2,438.8 1000.0,440.6 1000.9,440.5 C1002.4,440.4 1004.7,434.6 1006.3,430.7 C1008.5,425.4 1009.9,418.4 1011.7,411.2 C1013.9,402.2 1016.0,390.1 1018.2,380.8 C1020.0,372.9 1021.2,364.2 1023.7,359.1 C1025.2,355.9 1027.3,352.1 1029.1,352.1 C1030.9,352.1 1032.9,355.8 1034.5,359.1 C1037.3,364.8 1038.9,376.1 1041.0,385.1 C1043.3,394.8 1045.3,406.5 1047.5,415.5 C1049.3,422.8 1050.5,430.8 1053.0,435.1 C1054.5,437.7 1056.7,440.7 1058.4,440.5 C1060.4,440.2 1062.1,434.8 1063.8,430.7 C1066.3,424.6 1068.2,415.0 1070.3,406.9 C1072.5,398.4 1074.6,389.1 1076.9,380.8 C1079.0,373.2 1080.8,364.2 1083.4,359.1 C1085.0,355.9 1086.9,352.3 1088.8,352.1 C1090.5,351.9 1092.5,354.8 1094.2,356.9 C1096.5,359.7 1098.4,364.1 1100.7,367.8 C1103.1,371.7 1105.3,377.1 1108.3,379.7 C1110.7,381.8 1113.8,383.5 1116.3,383.5 C1118.6,383.5 1120.9,381.9 1123.0,380.0 C1125.9,377.5 1128.5,372.4 1131.0,368.5 C1133.5,364.6 1135.7,360.8 1137.8,356.5 C1140.1,351.8 1142.1,346.4 1144.0,341.3 C1145.9,336.2 1147.9,331.1 1149.3,326.0 C1150.7,321.0 1151.3,315.7 1152.4,310.9 C1153.4,306.4 1154.7,302.3 1155.7,297.8 C1156.8,292.9 1157.9,287.8 1158.9,282.6 C1160.0,277.0 1161.2,271.4 1162.2,265.2 C1163.3,258.3 1164.2,250.8 1165.2,243.0 C1166.3,234.4 1167.1,225.6 1168.4,216.0 C1169.8,205.1 1173.4,181.2 1173.4,181.2" fill="none" stroke="#0b1430" stroke-opacity="0.7" stroke-width="7.4" stroke-linejoin="round" stroke-linecap="butt"/>
<path d="M73.0,452.8 C73.0,452.8 77.3,451.1 80.0,450.5 C83.6,449.7 89.2,448.9 93.0,449.0 C96.0,449.1 98.5,449.4 101.0,450.5 C103.6,451.7 105.9,453.6 108.0,456.0 C110.6,459.0 112.6,463.3 115.0,467.5 C117.9,472.5 121.2,478.8 124.0,484.0 C126.5,488.7 128.6,492.7 131.0,497.5 C133.6,502.9 136.2,508.9 139.0,515.0 C142.0,521.7 145.5,529.7 148.5,536.0 C151.0,541.3 152.7,546.8 155.5,550.5 C157.7,553.5 160.0,555.8 163.0,557.3 C166.3,558.9 171.2,559.0 175.0,559.3 C178.5,559.5 182.2,559.7 185.0,559.0 C187.3,558.4 189.1,557.9 191.0,556.0 C194.3,552.7 197.2,543.9 200.0,538.0 C202.7,532.3 205.0,525.8 207.4,521.2 C209.2,517.8 210.7,514.6 212.8,512.5 C214.4,510.9 216.4,509.3 218.2,509.2 C220.0,509.1 221.9,509.9 223.6,511.4 C226.1,513.6 228.2,518.9 230.2,523.3 C232.6,528.5 234.4,535.4 236.7,540.7 C238.7,545.4 240.5,550.6 243.2,553.7 C245.4,556.2 248.0,557.8 250.8,558.8 C253.6,559.8 256.3,559.4 260.0,559.5 C265.4,559.7 273.3,559.5 280.0,559.5 C286.7,559.5 295.1,560.4 300.0,559.3 C303.1,558.6 305.2,557.7 307.2,555.9 C309.3,554.0 310.3,550.7 312.0,548.0 C313.8,545.1 315.8,542.1 317.7,539.0 C319.7,535.8 321.6,532.4 323.5,529.0 C325.5,525.5 327.4,522.7 329.5,518.5 C332.3,512.8 335.9,505.0 338.3,497.8 C340.8,490.3 342.3,482.6 344.2,474.3 C346.3,465.0 348.1,454.4 350.1,444.8 C352.0,435.7 354.0,425.5 356.0,418.3 C357.4,413.2 358.4,408.2 360.4,405.5 C361.6,403.8 363.2,402.2 364.7,402.3 C366.6,402.4 368.8,405.5 370.7,408.0 C373.3,411.3 375.6,416.8 378.0,421.2 C380.5,425.6 383.2,430.0 385.4,434.5 C387.6,438.9 389.5,442.7 391.3,447.7 C393.5,453.7 395.3,461.2 397.2,468.3 C399.2,475.9 401.1,483.7 403.0,491.8 C405.0,500.4 407.0,509.5 409.0,518.3 C411.0,527.1 412.5,537.9 414.9,544.8 C416.5,549.4 418.6,556.0 420.3,556.0 C422.0,556.0 423.8,549.3 425.3,544.8 C427.4,538.5 428.9,530.4 430.6,521.3 C432.9,508.9 434.9,490.5 436.8,477.1 C438.4,465.8 440.1,453.1 441.3,446.0 C441.9,442.2 442.3,440.9 443.0,437.4 C444.0,431.9 445.5,423.3 446.8,416.3 C448.1,409.3 449.5,402.3 450.8,395.3 C452.1,388.3 453.3,381.0 454.7,374.2 C456.0,367.8 457.4,361.9 458.7,355.8 C460.0,349.7 461.2,343.3 462.6,337.4 C463.9,331.9 465.3,326.7 466.6,321.6 C467.9,316.7 469.0,311.3 470.5,307.1 C471.7,303.7 472.9,300.2 474.5,298.2 C475.6,296.8 476.9,295.2 478.3,295.3 C480.2,295.4 482.9,298.6 484.7,301.7 C487.5,306.7 488.8,317.1 490.2,324.0 C491.4,330.0 492.1,334.6 493.0,340.8 C494.0,348.3 494.9,357.3 495.8,365.9 C496.8,375.0 497.6,384.7 498.6,393.8 C499.6,402.7 500.6,412.3 501.8,420.0 C502.8,426.1 503.1,431.7 505.0,436.3 C506.7,440.3 509.1,444.1 512.0,446.5 C514.5,448.6 517.7,449.3 520.8,450.5 C524.1,451.8 528.4,452.5 531.2,454.0 C533.4,455.1 535.1,456.0 536.5,458.0 C538.5,460.9 539.1,466.1 540.4,471.2 C542.1,477.9 543.8,486.6 545.7,494.9 C547.8,504.1 550.0,514.7 552.3,523.9 C554.4,532.2 556.1,541.7 558.9,547.6 C560.8,551.6 563.4,556.9 565.4,556.8 C567.3,556.7 569.3,551.4 570.7,547.6 C572.7,542.1 573.4,534.5 574.7,526.5 C576.5,515.9 578.5,502.1 580.0,489.6 C581.6,476.7 582.5,462.4 583.9,450.1 C585.1,439.3 585.5,428.3 587.9,419.8 C589.8,413.2 593.0,403.2 595.5,403.0 C597.2,402.8 599.0,407.0 600.5,410.2 C602.7,415.0 604.1,422.4 605.8,430.0 C608.1,440.2 610.2,455.5 612.4,465.9 C614.1,473.9 615.7,480.9 617.7,487.0 C619.3,491.8 621.3,499.7 623.0,499.7 C624.4,499.7 625.7,494.8 626.9,491.0 C628.9,484.5 630.5,473.4 632.0,463.3 C633.8,451.3 635.2,435.7 636.4,423.7 C637.4,413.6 638.1,404.8 639.0,396.0 C639.8,388.0 640.5,381.5 641.3,373.0 C642.3,362.6 643.5,349.3 644.7,338.1 C645.8,327.7 646.7,316.0 648.0,307.9 C648.9,302.4 649.7,296.8 651.0,294.0 C651.7,292.6 652.4,291.3 653.3,291.2 C654.2,291.1 655.4,292.5 656.3,294.0 C657.9,296.8 658.7,302.6 659.8,307.9 C661.2,314.6 662.2,323.3 663.3,331.2 C664.5,339.5 665.6,347.6 666.7,356.7 C667.9,367.1 668.8,379.6 670.0,390.0 C671.1,399.2 672.2,408.1 673.5,416.0 C674.6,422.7 675.0,429.9 677.0,434.3 C678.4,437.3 680.4,440.7 682.3,440.9 C683.9,441.1 685.9,438.9 687.5,436.9 C689.9,433.9 691.9,428.1 694.1,423.7 C696.3,419.3 698.2,414.2 700.7,410.5 C702.9,407.3 705.6,402.6 708.0,402.5 C710.3,402.4 713.2,406.3 715.0,409.5 C717.4,414.0 717.8,421.1 719.0,428.0 C720.5,436.8 721.2,447.1 722.5,458.0 C724.1,470.9 726.3,488.0 728.1,500.5 C729.5,510.3 730.7,518.5 732.1,526.7 C733.4,533.9 734.3,541.7 736.1,546.9 C737.3,550.5 739.0,555.5 740.4,555.5 C741.7,555.5 743.1,550.8 744.2,548.0 C745.4,544.7 745.9,541.3 747.0,537.0 C748.6,530.7 750.8,521.7 752.7,514.0 C754.6,506.4 756.5,498.7 758.4,491.1 C760.3,483.5 762.2,475.9 764.1,468.4 C766.0,460.9 768.1,453.1 769.8,446.0 C771.3,439.7 772.6,434.5 774.0,428.0 C775.7,420.3 777.4,410.4 779.0,402.5 C780.4,395.7 781.8,389.3 783.2,383.6 C784.3,378.8 785.4,374.6 786.5,370.5 C787.5,366.9 788.4,363.7 789.5,360.5 C790.5,357.5 791.4,354.3 792.8,352.0 C794.0,350.1 795.5,347.2 796.9,347.2 C798.3,347.2 800.0,349.7 801.1,351.9 C802.7,355.1 802.9,360.6 803.7,365.6 C804.7,371.7 805.4,379.1 806.2,386.0 C807.0,392.9 807.8,400.5 808.5,407.0 C809.1,412.7 809.4,417.0 810.0,423.0 C810.7,430.8 811.7,441.1 812.5,450.0 C813.3,458.6 814.1,466.9 815.0,475.3 C815.8,483.7 816.7,492.0 817.6,500.4 C818.4,508.7 819.0,517.5 820.1,525.4 C821.1,532.5 822.3,540.3 823.8,545.5 C824.8,549.0 825.9,553.9 827.1,554.0 C828.1,554.0 829.3,550.3 830.3,547.5 C831.8,543.2 832.6,536.7 833.9,530.5 C835.5,523.0 837.2,513.7 838.9,505.4 C840.6,497.2 842.1,488.5 843.9,481.0 C845.5,474.5 846.4,467.2 848.9,463.0 C850.6,460.2 853.5,456.9 855.2,457.0 C856.4,457.1 857.4,458.9 858.3,460.5 C859.7,462.9 860.6,466.9 861.6,470.6 C862.8,475.2 863.8,480.9 864.9,486.0 C866.0,491.1 867.1,496.3 868.2,501.4 C869.3,506.5 870.4,511.7 871.5,516.8 C872.6,521.9 873.7,527.3 874.8,532.2 C875.9,536.8 876.8,541.4 878.1,545.4 C879.2,548.8 880.3,554.1 881.8,554.5 C882.7,554.8 883.9,553.7 884.7,552.5 C886.3,549.9 886.2,542.6 886.9,537.0 C887.7,530.2 888.4,522.2 889.1,514.6 C889.8,506.7 890.6,498.6 891.3,490.4 C892.0,481.8 892.8,472.8 893.5,464.0 C894.2,455.2 895.0,447.4 895.7,437.6 C896.6,425.3 897.7,409.0 898.6,396.0 C899.4,384.5 900.0,374.3 900.8,363.4 C901.6,352.6 902.7,341.9 903.4,330.9 C904.2,319.7 904.2,307.6 905.3,297.0 C906.3,287.7 907.5,277.8 909.3,270.7 C910.6,265.6 912.3,258.1 914.0,258.0 C915.6,257.9 917.6,263.7 919.0,268.0 C921.2,275.0 922.2,286.9 923.3,297.0 C924.5,308.1 924.4,319.1 925.5,332.0 C926.9,347.9 929.3,369.6 931.2,385.1 C932.7,397.3 933.8,408.3 935.5,417.7 C936.8,425.1 938.5,433.1 939.9,437.2 C940.6,439.2 941.1,441.5 942.0,441.6 C942.9,441.7 944.4,439.4 945.3,437.2 C947.2,432.6 947.6,422.0 948.6,413.4 C949.8,403.4 950.7,391.8 951.8,380.8 C952.9,369.4 954.2,356.1 955.1,346.0 C955.8,338.1 956.4,333.4 957.0,325.0 C957.9,312.6 958.4,294.6 959.4,278.6 C960.5,261.6 961.9,242.2 963.3,225.9 C964.5,211.8 965.1,195.6 967.3,186.4 C968.6,181.2 970.3,174.5 972.0,174.5 C973.8,174.5 976.3,182.9 977.8,189.0 C980.1,198.4 980.7,213.4 981.8,225.9 C982.9,238.8 983.6,250.9 984.4,265.4 C985.4,283.2 986.2,308.9 987.3,325.0 C988.1,336.0 989.1,342.6 989.8,352.6 C990.7,364.5 991.0,379.4 992.0,391.6 C992.9,402.4 994.0,413.6 995.3,422.0 C996.2,428.0 997.1,434.1 998.5,437.2 C999.2,438.8 1000.0,440.6 1000.9,440.5 C1002.4,440.4 1004.7,434.6 1006.3,430.7 C1008.5,425.4 1009.9,418.4 1011.7,411.2 C1013.9,402.2 1016.0,390.1 1018.2,380.8 C1020.0,372.9 1021.2,364.2 1023.7,359.1 C1025.2,355.9 1027.3,352.1 1029.1,352.1 C1030.9,352.1 1032.9,355.8 1034.5,359.1 C1037.3,364.8 1038.9,376.1 1041.0,385.1 C1043.3,394.8 1045.3,406.5 1047.5,415.5 C1049.3,422.8 1050.5,430.8 1053.0,435.1 C1054.5,437.7 1056.7,440.7 1058.4,440.5 C1060.4,440.2 1062.1,434.8 1063.8,430.7 C1066.3,424.6 1068.2,415.0 1070.3,406.9 C1072.5,398.4 1074.6,389.1 1076.9,380.8 C1079.0,373.2 1080.8,364.2 1083.4,359.1 C1085.0,355.9 1086.9,352.3 1088.8,352.1 C1090.5,351.9 1092.5,354.8 1094.2,356.9 C1096.5,359.7 1098.4,364.1 1100.7,367.8 C1103.1,371.7 1105.3,377.1 1108.3,379.7 C1110.7,381.8 1113.8,383.5 1116.3,383.5 C1118.6,383.5 1120.9,381.9 1123.0,380.0 C1125.9,377.5 1128.5,372.4 1131.0,368.5 C1133.5,364.6 1135.7,360.8 1137.8,356.5 C1140.1,351.8 1142.1,346.4 1144.0,341.3 C1145.9,336.2 1147.9,331.1 1149.3,326.0 C1150.7,321.0 1151.3,315.7 1152.4,310.9 C1153.4,306.4 1154.7,302.3 1155.7,297.8 C1156.8,292.9 1157.9,287.8 1158.9,282.6 C1160.0,277.0 1161.2,271.4 1162.2,265.2 C1163.3,258.3 1164.2,250.8 1165.2,243.0 C1166.3,234.4 1167.1,225.6 1168.4,216.0 C1169.8,205.1 1173.4,181.2 1173.4,181.2" fill="none" stroke="#9cc6ec" stroke-width="4.5" stroke-linejoin="round" stroke-linecap="butt"/>
<rect x="851.7" y="593.4" width="23.5" height="23.6" rx="4.5" fill="#5b2a92"/>
<text x="886.5" y="616.4" font-size="30" letter-spacing="0.4" fill="#a0a0a0">Impressions</text>
<rect x="1083.7" y="593.4" width="23" height="23.2" rx="4.5" fill="#8dc8f2"/>
<text x="1118.3" y="616.3" font-size="30" letter-spacing="0.6" fill="#a0a0a0">Clicks</text>
<path d="M1230.8,574.8 Q1236.1,590.7 1252.0,596.0 Q1236.1,601.3 1230.8,617.2 Q1225.5,601.3 1209.6,596.0 Q1225.5,590.7 1230.8,574.8 Z" fill="#979797"/>
</svg>
</body></html>
